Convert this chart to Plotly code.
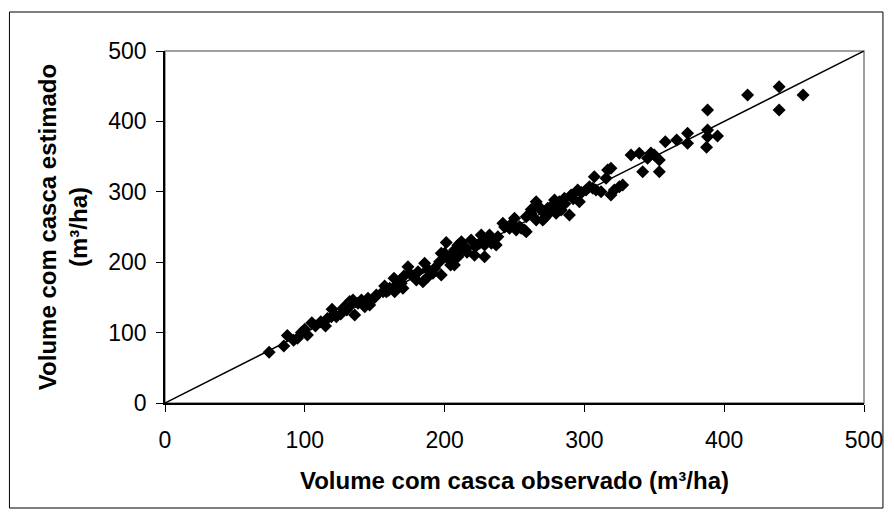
import plotly.graph_objects as go

obs = [74.5, 85, 87.5, 92, 94.8, 97.6, 100, 101.9, 105, 107.6, 111.4, 114.8, 116.2,
       119.5, 119, 122.6, 125.7, 127.4, 129.8, 130, 132.1, 133.4, 134.5, 135.7, 138.1,
       140.5, 142.9, 143, 145.2, 146.4, 150, 151.2, 155.9, 157.1, 158.3, 160, 160.7,
       163.8, 164.3, 165.5, 168, 169, 170.2, 170.9, 173.8, 175, 178, 179.8, 181, 184.5,
       185.7, 188, 188.1, 191.6, 192.9, 196.4, 197.6, 197.6, 200, 201.2, 202.4, 204.3,
       205, 207, 207.1, 209.5, 209.5, 211.9, 212, 215.5, 216, 219, 221.4, 222, 225,
       226.2, 228.6, 228.6, 230.9, 232.1, 233.4, 235, 236.9, 238.1, 241.7, 243, 246.4,
       248, 250, 251.2, 253.6, 254.8, 257.1, 258.4, 258.4, 261.9, 262, 265.5, 265.5,
       267, 269, 270.2, 271.4, 273.8, 275, 277.4, 278.6, 279.8, 281, 282.1, 283.4, 285.7,
       286, 289.3, 290.5, 292, 295.2, 296.4, 298, 301.2, 303.6, 306, 307.1, 308.3, 311.9,
       315.5, 316.6, 319, 319, 321.4, 325, 327.4, 333.4, 339.3, 341.7, 345.2, 347.6,
       350, 353.6, 353.6, 357.9, 366, 373.8, 373.8, 387.4, 388.1, 388.1, 388.1, 395.2,
       416.7, 439.3, 439.3, 456.4]
est = [72, 81, 96, 89, 92, 100, 104.6, 96.6, 114, 109.4, 115.5, 109.4, 120,
       133, 122.6, 122.6, 126.4, 134.5, 139, 132, 144, 141.6, 146.3, 125, 141.6,
       146.3, 136.8, 140, 148.7, 139.2, 150, 153.4, 158, 166.2, 158.1, 160, 162.9,
       177.1, 158.1, 167.6, 172, 170, 162.9, 180.4, 193.6, 184.2, 180, 174.7, 186.5, 172.3,
       198.4, 190, 179.4, 184.2, 191.3, 200.7, 181.8, 212.6, 212.6, 228, 205.5, 196,
       210, 196, 217.3, 207.8, 224, 214.9, 229, 219.7, 214, 231.5, 210, 222, 226.8,
       238.6, 207.8, 224.4, 234, 238.6, 226.8, 232, 224.4, 236.2, 255.2, 250, 248.1,
       255, 262.3, 245.7, 250.4, 248.1, 245.7, 264.6, 243.3, 269.4, 275, 286, 260,
       280, 274, 260, 262.3, 276.6, 270, 281.3, 288.4, 269.4, 281.3, 286, 274, 290.8,
       283, 267, 295.5, 290, 302.6, 286, 299, 302.6, 307.2, 305, 321.4, 302.6, 300.1,
       319.2, 331, 333.4, 295.5, 302.6, 307.2, 309.7, 352.3, 354.7, 328.6, 347.6, 355,
       352.3, 345.2, 328.6, 371.2, 373.6, 383, 368.9, 363.2, 378.3, 387.8, 416.2, 379.3,
       437.5, 449.3, 416.2, 437.5]

line_x = [0, 500]
line_y = [0, 500]
ticks = [0, 100, 200, 300, 400, 500]

FONT = "Arial, 'Liberation Sans', sans-serif"

fig = go.Figure()
fig.add_trace(go.Scatter(x=line_x, y=line_y, mode="lines",
                         line=dict(color="black", width=1.5), showlegend=False,
                         hoverinfo="skip"))
fig.add_trace(go.Scatter(x=obs, y=est, mode="markers",
                         marker=dict(symbol="diamond", size=10, color="black",
                                     line=dict(width=0)),
                         showlegend=False))

W, H = 895, 518
L, R, T, B = 165, 29, 51, 115
pw, ph = W - L - R, H - T - B

def px_to_paper_x(px):
    return (px - L) / pw

def px_to_paper_y(py):
    return (H - B - py) / ph

fig.update_layout(
    width=W, height=H,
    margin=dict(l=L, r=R, t=T, b=B, pad=0),
    paper_bgcolor="white", plot_bgcolor="white",
    font=dict(family=FONT, color="black", size=23),
    shapes=[
        dict(type="rect", xref="paper", yref="paper", x0=0, y0=0, x1=1, y1=1,
             line=dict(color="#808080", width=1.5), layer="below"),
        dict(type="rect", xref="paper", yref="paper",
             x0=px_to_paper_x(9), x1=px_to_paper_x(885),
             y0=px_to_paper_y(508), y1=px_to_paper_y(12),
             line=dict(color="black", width=1)),
    ],
)

fig.update_xaxes(range=[0, 500], tickvals=ticks, ticktext=[str(t) for t in ticks],
                 showgrid=False, zeroline=False, showline=True, linecolor="black",
                 linewidth=1.5, ticks="outside", ticklen=7, tickcolor="black",
                 tickwidth=1, tickfont=dict(size=23), ticklabelstandoff=9,
                 title=dict(text="<b>Volume com casca observado (m³/ha)</b>",
                            font=dict(size=24), standoff=20))
fig.update_yaxes(range=[0, 500], tickvals=ticks, ticktext=[str(t) for t in ticks],
                 showgrid=False, zeroline=False, showline=True, linecolor="black",
                 linewidth=1.5, ticks="outside", ticklen=7, tickcolor="black",
                 tickwidth=1, tickfont=dict(size=23), ticklabelstandoff=5,
                 title=dict(text="<b>Volume com casca estimado<br>(m³/ha)</b>",
                            font=dict(size=24), standoff=14))

fig.write_html("out.html")
